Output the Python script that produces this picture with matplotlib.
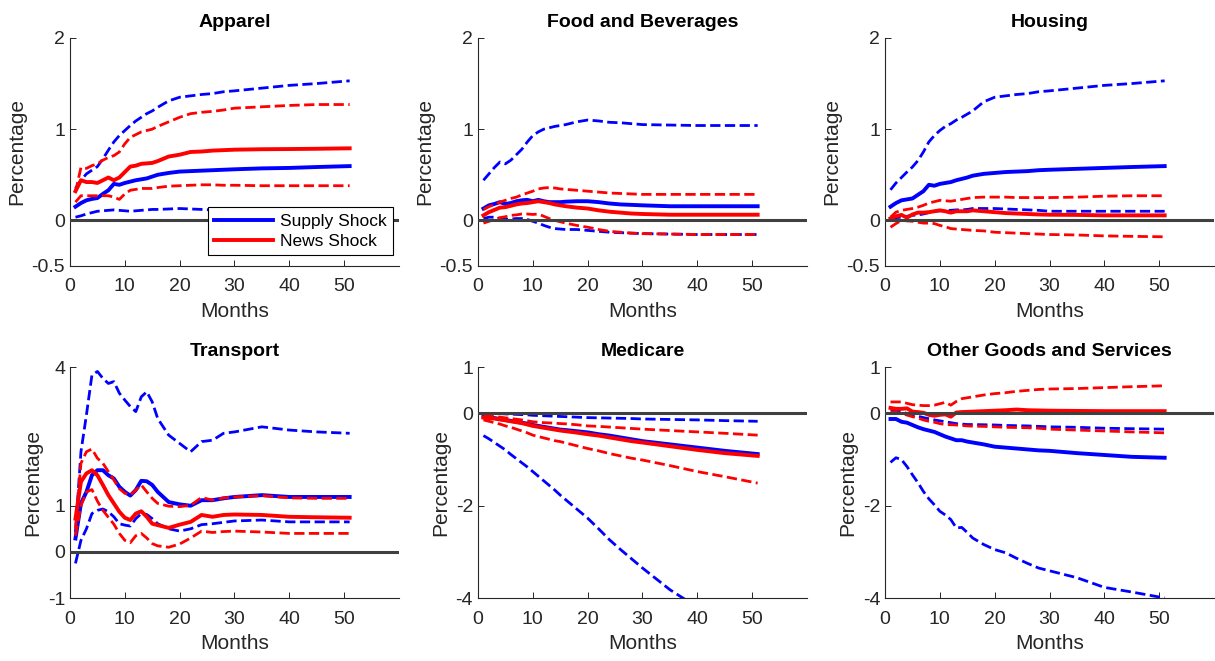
import numpy as np
import matplotlib
matplotlib.use('Agg')
import matplotlib.pyplot as plt

plt.rcParams['font.family'] = ['Liberation Sans', 'DejaVu Sans']

# horizon (months) at which the responses are recorded
months = [1, 2, 3, 4, 5, 6, 7, 8, 9, 10, 11, 12, 13, 14, 15, 16, 18, 20, 22, 24, 26, 28, 30, 35, 40, 45, 51]

# Apparel
apparel_supply = [0.15, 0.19, 0.22, 0.235, 0.245, 0.29, 0.33, 0.40, 0.39, 0.41, 0.425, 0.44, 0.45, 0.46, 0.48, 0.50, 0.52, 0.535, 0.54, 0.545, 0.55, 0.555, 0.56, 0.57, 0.575, 0.585, 0.595]
apparel_supply_hi = [0.35, 0.44, 0.51, 0.55, 0.59, 0.675, 0.77, 0.86, 0.93, 0.985, 1.04, 1.09, 1.13, 1.17, 1.20, 1.24, 1.31, 1.35, 1.365, 1.38, 1.39, 1.41, 1.42, 1.45, 1.48, 1.50, 1.53]
apparel_supply_lo = [0.035, 0.05, 0.07, 0.085, 0.10, 0.105, 0.11, 0.115, 0.11, 0.105, 0.10, 0.105, 0.11, 0.115, 0.12, 0.12, 0.125, 0.13, 0.125, 0.12, 0.115, 0.11, 0.11, 0.105, 0.10, 0.10, 0.10]
apparel_news = [0.32, 0.44, 0.42, 0.42, 0.41, 0.44, 0.47, 0.44, 0.47, 0.53, 0.59, 0.60, 0.62, 0.625, 0.63, 0.65, 0.70, 0.72, 0.75, 0.755, 0.765, 0.77, 0.775, 0.78, 0.782, 0.785, 0.79]
apparel_news_hi = [0.31, 0.58, 0.57, 0.60, 0.62, 0.66, 0.69, 0.71, 0.75, 0.84, 0.91, 0.94, 0.97, 0.985, 1.0, 1.03, 1.08, 1.13, 1.17, 1.185, 1.195, 1.21, 1.23, 1.245, 1.26, 1.27, 1.27]
apparel_news_lo = [0.20, 0.27, 0.27, 0.27, 0.27, 0.27, 0.27, 0.255, 0.23, 0.29, 0.33, 0.34, 0.35, 0.35, 0.35, 0.36, 0.375, 0.38, 0.385, 0.39, 0.39, 0.385, 0.385, 0.38, 0.38, 0.38, 0.38]

# Food and Beverages
food_supply = [0.13, 0.165, 0.18, 0.20, 0.18, 0.19, 0.21, 0.22, 0.225, 0.21, 0.225, 0.21, 0.20, 0.20, 0.20, 0.205, 0.21, 0.21, 0.20, 0.185, 0.175, 0.17, 0.165, 0.155, 0.155, 0.155, 0.155]
food_supply_hi = [0.44, 0.51, 0.58, 0.64, 0.62, 0.66, 0.72, 0.78, 0.86, 0.93, 0.97, 1.0, 1.015, 1.03, 1.04, 1.05, 1.08, 1.10, 1.09, 1.075, 1.07, 1.06, 1.05, 1.045, 1.04, 1.04, 1.04]
food_supply_lo = [0.02, 0.035, 0.035, 0.02, 0.01, 0.015, 0.02, 0.02, 0.01, -0.01, -0.03, -0.055, -0.075, -0.09, -0.095, -0.10, -0.10, -0.11, -0.12, -0.13, -0.135, -0.14, -0.145, -0.15, -0.155, -0.155, -0.155]
food_news = [0.055, 0.09, 0.115, 0.14, 0.145, 0.16, 0.175, 0.185, 0.19, 0.20, 0.21, 0.20, 0.19, 0.175, 0.165, 0.155, 0.14, 0.13, 0.11, 0.095, 0.085, 0.075, 0.07, 0.062, 0.062, 0.062, 0.062]
food_news_hi = [0.12, 0.15, 0.175, 0.20, 0.22, 0.24, 0.255, 0.28, 0.30, 0.32, 0.345, 0.355, 0.36, 0.355, 0.345, 0.34, 0.33, 0.32, 0.31, 0.30, 0.295, 0.29, 0.285, 0.285, 0.285, 0.285, 0.285]
food_news_lo = [-0.03, -0.01, 0.01, 0.03, 0.04, 0.055, 0.06, 0.07, 0.07, 0.065, 0.07, 0.045, 0.02, 0.0, -0.015, -0.03, -0.055, -0.075, -0.10, -0.12, -0.13, -0.14, -0.145, -0.15, -0.155, -0.155, -0.155]

# Housing
housing_supply = [0.15, 0.19, 0.22, 0.23, 0.24, 0.28, 0.32, 0.39, 0.38, 0.40, 0.41, 0.42, 0.44, 0.455, 0.47, 0.49, 0.51, 0.52, 0.53, 0.535, 0.54, 0.55, 0.555, 0.565, 0.575, 0.585, 0.595]
housing_supply_hi = [0.335, 0.41, 0.47, 0.53, 0.585, 0.655, 0.75, 0.86, 0.93, 0.985, 1.03, 1.06, 1.10, 1.13, 1.165, 1.20, 1.30, 1.35, 1.365, 1.38, 1.39, 1.41, 1.42, 1.45, 1.48, 1.50, 1.53]
housing_supply_lo = [0.02, 0.03, 0.035, 0.045, 0.055, 0.06, 0.07, 0.085, 0.10, 0.105, 0.11, 0.11, 0.115, 0.115, 0.12, 0.13, 0.13, 0.13, 0.125, 0.12, 0.115, 0.11, 0.10, 0.10, 0.10, 0.10, 0.10]
housing_news = [0.02, 0.045, 0.06, 0.03, 0.065, 0.085, 0.085, 0.09, 0.10, 0.11, 0.10, 0.085, 0.10, 0.10, 0.10, 0.11, 0.10, 0.09, 0.08, 0.075, 0.07, 0.065, 0.062, 0.06, 0.055, 0.055, 0.055]
housing_news_hi = [0.035, 0.09, 0.11, 0.12, 0.13, 0.145, 0.165, 0.19, 0.205, 0.22, 0.215, 0.21, 0.22, 0.23, 0.24, 0.25, 0.255, 0.255, 0.255, 0.25, 0.25, 0.25, 0.25, 0.255, 0.265, 0.27, 0.27]
housing_news_lo = [-0.075, -0.035, 0.0, -0.005, -0.01, -0.02, -0.03, -0.03, -0.035, -0.055, -0.07, -0.09, -0.095, -0.10, -0.105, -0.11, -0.115, -0.13, -0.135, -0.14, -0.145, -0.15, -0.155, -0.16, -0.17, -0.175, -0.18]

# Transport
transport_supply = [0.29, 1.05, 1.30, 1.66, 1.77, 1.77, 1.66, 1.59, 1.41, 1.30, 1.22, 1.34, 1.54, 1.53, 1.45, 1.30, 1.08, 1.03, 1.0, 1.12, 1.12, 1.16, 1.19, 1.23, 1.19, 1.19, 1.19]
transport_supply_hi = [0.43, 2.17, 2.97, 3.83, 3.91, 3.76, 3.65, 3.69, 3.44, 3.29, 3.15, 3.04, 3.36, 3.47, 3.25, 2.89, 2.53, 2.35, 2.17, 2.39, 2.42, 2.57, 2.60, 2.71, 2.64, 2.60, 2.57]
transport_supply_lo = [-0.25, 0.25, 0.50, 0.83, 0.90, 0.93, 0.87, 0.76, 0.61, 0.58, 0.56, 0.72, 0.83, 0.81, 0.72, 0.61, 0.50, 0.45, 0.50, 0.59, 0.61, 0.64, 0.67, 0.69, 0.65, 0.65, 0.65]
transport_news = [0.72, 1.52, 1.70, 1.77, 1.66, 1.45, 1.23, 1.05, 0.87, 0.74, 0.69, 0.83, 0.88, 0.76, 0.61, 0.58, 0.52, 0.59, 0.65, 0.80, 0.76, 0.80, 0.81, 0.80, 0.76, 0.75, 0.74]
transport_news_hi = [0.50, 1.92, 2.17, 2.23, 2.03, 1.92, 1.74, 1.56, 1.37, 1.27, 1.23, 1.34, 1.45, 1.30, 1.16, 1.05, 0.99, 0.98, 1.01, 1.18, 1.12, 1.17, 1.19, 1.22, 1.17, 1.16, 1.16]
transport_news_lo = [0.35, 1.0, 1.30, 1.35, 1.10, 0.90, 0.75, 0.60, 0.40, 0.25, 0.20, 0.35, 0.40, 0.30, 0.18, 0.13, 0.10, 0.17, 0.30, 0.45, 0.42, 0.44, 0.45, 0.43, 0.40, 0.40, 0.40]

# Medicare
medicare_supply = [-0.07, -0.08, -0.10, -0.12, -0.14, -0.16, -0.18, -0.20, -0.22, -0.25, -0.27, -0.29, -0.31, -0.33, -0.35, -0.36, -0.385, -0.41, -0.45, -0.48, -0.52, -0.56, -0.60, -0.67, -0.74, -0.81, -0.88]
medicare_supply_hi = [0.0, 0.0, 0.0, -0.005, -0.01, -0.015, -0.02, -0.025, -0.03, -0.04, -0.045, -0.05, -0.055, -0.06, -0.065, -0.07, -0.08, -0.09, -0.095, -0.10, -0.105, -0.11, -0.12, -0.13, -0.14, -0.155, -0.17]
medicare_supply_lo = [-0.48, -0.55, -0.63, -0.71, -0.79, -0.89, -0.98, -1.07, -1.16, -1.26, -1.36, -1.46, -1.56, -1.66, -1.77, -1.87, -2.07, -2.27, -2.50, -2.74, -2.95, -3.15, -3.35, -3.82, -4.20, -4.55, -4.95]
medicare_news = [-0.09, -0.10, -0.11, -0.13, -0.15, -0.17, -0.19, -0.21, -0.24, -0.27, -0.29, -0.31, -0.33, -0.35, -0.37, -0.385, -0.415, -0.45, -0.48, -0.52, -0.56, -0.60, -0.63, -0.71, -0.79, -0.86, -0.92]
medicare_news_hi = [-0.04, -0.05, -0.065, -0.08, -0.095, -0.11, -0.125, -0.14, -0.16, -0.18, -0.19, -0.20, -0.205, -0.21, -0.22, -0.225, -0.245, -0.27, -0.28, -0.295, -0.31, -0.325, -0.34, -0.37, -0.40, -0.43, -0.47]
medicare_news_lo = [-0.14, -0.17, -0.20, -0.23, -0.27, -0.30, -0.34, -0.38, -0.42, -0.47, -0.50, -0.53, -0.56, -0.59, -0.61, -0.64, -0.70, -0.76, -0.81, -0.87, -0.92, -0.97, -1.01, -1.13, -1.26, -1.37, -1.51]

# Other Goods and Services
other_supply = [-0.12, -0.12, -0.18, -0.20, -0.25, -0.30, -0.34, -0.37, -0.40, -0.45, -0.50, -0.54, -0.58, -0.58, -0.61, -0.63, -0.67, -0.72, -0.74, -0.76, -0.78, -0.80, -0.81, -0.86, -0.90, -0.94, -0.96]
other_supply_hi = [0.09, 0.07, 0.04, 0.0, -0.035, -0.06, -0.09, -0.115, -0.14, -0.16, -0.18, -0.20, -0.22, -0.23, -0.24, -0.24, -0.245, -0.25, -0.26, -0.265, -0.27, -0.28, -0.29, -0.30, -0.32, -0.33, -0.34]
other_supply_lo = [-1.06, -0.96, -1.0, -1.15, -1.33, -1.50, -1.69, -1.85, -1.98, -2.12, -2.20, -2.30, -2.48, -2.47, -2.58, -2.70, -2.84, -2.95, -3.02, -3.14, -3.25, -3.35, -3.41, -3.56, -3.77, -3.87, -4.0]
other_news = [0.12, 0.10, 0.10, 0.11, 0.04, 0.03, 0.015, -0.03, -0.05, -0.03, -0.02, -0.07, 0.02, 0.03, 0.035, 0.04, 0.05, 0.06, 0.07, 0.085, 0.07, 0.065, 0.06, 0.055, 0.05, 0.05, 0.05]
other_news_hi = [0.25, 0.25, 0.25, 0.22, 0.19, 0.18, 0.17, 0.17, 0.18, 0.21, 0.24, 0.18, 0.26, 0.32, 0.34, 0.36, 0.40, 0.43, 0.45, 0.48, 0.50, 0.52, 0.53, 0.54, 0.56, 0.58, 0.60]
other_news_lo = [0.035, 0.02, 0.0, -0.035, -0.07, -0.10, -0.14, -0.17, -0.19, -0.22, -0.24, -0.245, -0.25, -0.26, -0.27, -0.275, -0.28, -0.29, -0.30, -0.305, -0.31, -0.32, -0.34, -0.36, -0.38, -0.40, -0.42]

titles = ['Apparel', 'Food and Beverages', 'Housing',
          'Transport', 'Medicare', 'Other Goods and Services']
ylims = [(-0.5, 2), (-0.5, 2), (-0.5, 2), (-1, 4), (-4, 1), (-4, 1)]
yticks = [[-0.5, 0, 1, 2], [-0.5, 0, 1, 2], [-0.5, 0, 1, 2],
          [-1, 0, 1, 4], [-4, -2, 0, 1], [-4, -2, 0, 1]]
ytick_labels = [['-0.5', '0', '1', '2'], ['-0.5', '0', '1', '2'], ['-0.5', '0', '1', '2'],
                ['-1', '0', '1', '4'], ['-4', '-2', '0', '1'], ['-4', '-2', '0', '1']]

panels = [
    (apparel_supply, apparel_supply_lo, apparel_supply_hi, apparel_news, apparel_news_lo, apparel_news_hi),
    (food_supply, food_supply_lo, food_supply_hi, food_news, food_news_lo, food_news_hi),
    (housing_supply, housing_supply_lo, housing_supply_hi, housing_news, housing_news_lo, housing_news_hi),
    (transport_supply, transport_supply_lo, transport_supply_hi, transport_news, transport_news_lo, transport_news_hi),
    (medicare_supply, medicare_supply_lo, medicare_supply_hi, medicare_news, medicare_news_lo, medicare_news_hi),
    (other_supply, other_supply_lo, other_supply_hi, other_news, other_news_lo, other_news_hi),
]

grey = '#262626'
fig = plt.figure(figsize=(12.15, 6.61), dpi=100)

lefts = [0.0576, 0.3934, 0.7284]
bottoms = [0.5976, 0.0953]
heights = [0.345, 0.349]
width = 0.2708

for i, (title, data) in enumerate(zip(titles, panels)):
    r, c = divmod(i, 3)
    ax = fig.add_axes([lefts[c], bottoms[r], width, heights[r]])
    sup, sup_lo, sup_hi, news, news_lo, news_hi = data

    l1, = ax.plot(months, sup, color='blue', lw=2.8, zorder=3)
    ax.plot(months, sup_hi, color='blue', lw=2.0, ls='--', zorder=3)
    ax.plot(months, sup_lo, color='blue', lw=2.0, ls='--', zorder=3)
    l2, = ax.plot(months, news, color='red', lw=2.8, zorder=4)
    ax.plot(months, news_hi, color='red', lw=2.0, ls='--', zorder=4)
    ax.plot(months, news_lo, color='red', lw=2.0, ls='--', zorder=4)
    ax.plot([0, 60], [0, 0], color='#404040', lw=2.2, zorder=5)

    ax.set_xlim(0, 60)
    ax.set_ylim(*ylims[i])
    ax.set_xticks([0, 10, 20, 30, 40, 50])
    ax.set_yticks(yticks[i])
    ax.set_yticklabels(ytick_labels[i])
    ax.tick_params(direction='in', length=4, width=0.7, colors=grey, labelsize=14)
    ax.tick_params(axis='x', pad=9)
    for s in ['top', 'right']:
        ax.spines[s].set_visible(False)
    for s in ['left', 'bottom']:
        ax.spines[s].set_color(grey)
        ax.spines[s].set_linewidth(0.8)
    ax.set_title(title, fontsize=14, fontweight='bold', color='black', pad=8)
    ax.set_xlabel('Months', fontsize=15, color=grey, labelpad=5)
    ax.set_ylabel('Percentage', fontsize=15, color=grey, labelpad=4)

    if i == 0:
        leg = ax.legend([l1, l2], ['Supply Shock', 'News Shock'], loc='lower right',
                        bbox_to_anchor=(0.982, 0.048), fontsize=12.5, frameon=True,
                        fancybox=False, edgecolor='black', framealpha=1,
                        handlelength=3.4, borderpad=0.35, labelspacing=0.3,
                        handletextpad=0.4, borderaxespad=0)
        leg.get_frame().set_linewidth(0.8)
        leg.set_zorder(10)

fig.savefig('out.png', dpi=100)
